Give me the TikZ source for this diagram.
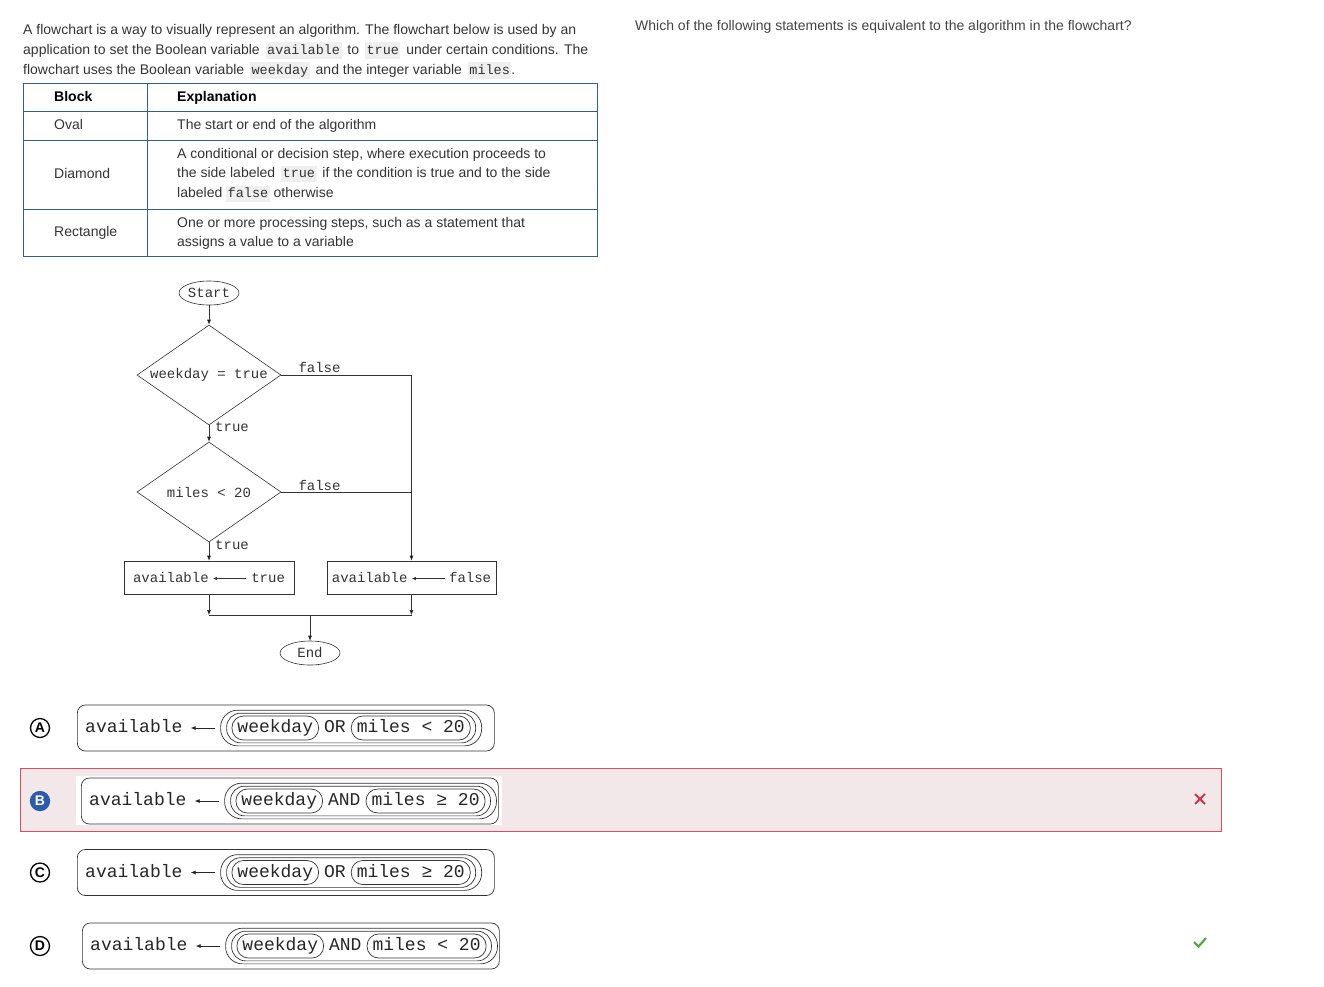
\documentclass[tikz,border=0pt]{standalone}
\usepackage{fontspec}
\setmainfont{Liberation Sans}
\setmonofont{Liberation Mono}
\usetikzlibrary{arrows.meta}
\usetikzlibrary{shapes.geometric}
\usetikzlibrary{positioning}
\usetikzlibrary{fit}

\definecolor{inktext}{HTML}{333333}
\definecolor{asktext}{HTML}{444444}
\definecolor{tableline}{HTML}{2F5F8A}
\definecolor{codebg}{HTML}{EFEFEF}
\definecolor{flowgray}{HTML}{333333}
\definecolor{wrongfill}{HTML}{F3E8E9}
\definecolor{wrongline}{HTML}{DB4C5E}
\definecolor{markblue}{HTML}{2C5BAE}
\definecolor{crossred}{HTML}{C9354C}
\definecolor{tickgreen}{HTML}{5BA843}

\newcommand{\bodyfont}{\fontsize{14}{16}\selectfont}
\newcommand{\flowfont}{\fontsize{14}{14}\ttfamily}
\newcommand{\choicefont}{\fontsize{18}{18}\ttfamily}
\newcommand{\codebox}[1]{{\setlength{\fboxsep}{1.5pt}\colorbox{codebg}{\rule[-3pt]{0pt}{13.5pt}\fontsize{13.5}{14}\ttfamily #1}}}
\newcommand{\code}[1]{\hspace{2pt}\codebox{#1}\hspace{2pt}}
\newcommand{\getsarrow}{\tikz[baseline=-4pt]\draw[flowgray,line width=0.6pt,-{Latex[length=4pt,width=3.5pt]}] (0pt,0pt) -- (-33pt,0pt);}

\begin{document}
\begin{tikzpicture}[x=1pt,y=-1pt,
    prose/.style={anchor=base west,inner sep=0pt,font=\bodyfont,text=inktext},
    flowline/.style={draw=flowgray,line width=0.6pt},
    flowarrow/.style={flowline,-{Latex[length=5pt,width=4pt]}},
    terminal/.style={ellipse,flowline,minimum width=60pt,minimum height=24pt,inner sep=0pt,font=\flowfont,text=flowgray},
    decision/.style={diamond,flowline,aspect=1.44,minimum width=144pt,minimum height=100pt,inner sep=0pt,font=\flowfont,text=flowgray},
    process/.style={rectangle,flowline,minimum height=33pt,inner sep=0pt,font=\flowfont,text=flowgray},
    branch/.style={anchor=west,inner sep=0pt,font=\flowfont,text=flowgray},
    choicetext/.style={inner sep=0pt,text height=11pt,text depth=2pt,font=\choicefont,text=black!85},
    pill/.style={rectangle,draw=black!80,line width=0.7pt,rounded corners=11.5pt,minimum height=24pt,inner xsep=5.5pt,inner ysep=0pt,text height=11pt,text depth=2pt,font=\choicefont,text=black!85},
    ring/.style={rectangle,draw=black!80,line width=0.7pt,inner sep=0pt},
    choicebox/.style={rectangle,draw=black!80,line width=0.7pt,rounded corners=8pt,minimum width=417pt,minimum height=46pt,anchor=west},
    assign/.style={draw=black!85,line width=0.7pt,-{Latex[length=5pt,width=4pt]}},
    letter/.style={circle,draw=black,line width=1.3pt,minimum size=19pt,inner sep=0pt,font=\fontsize{14}{14}\selectfont\bfseries},
    picked/.style={circle,fill=markblue,draw=markblue,line width=1.3pt,minimum size=19pt,inner sep=0pt,text=white,font=\fontsize{14}{14}\selectfont\bfseries}
]

    \useasboundingbox (0,0) rectangle (1324,986);

    % introduction and question
    \node[prose] (intro1) at (23,34) {A flowchart is a way to visually represent an algorithm. The flowchart below is used by an};
    \node[prose] (intro2) at (23,54) {application to set the Boolean variable \code{available} to \code{true} under certain conditions. The};
    \node[prose] (intro3) at (23,74) {flowchart uses the Boolean variable \code{weekday} and the integer variable \hspace{2pt}\codebox{miles}.};
    \node[prose,text=asktext] (question) at (635,30) {Which of the following statements is equivalent to the algorithm in the flowchart?};

    % table of blocks
    \draw[tableline,line width=0.8pt] (23,83) rectangle (597,256);
    \foreach \yy in {111,140,209}
        \draw[tableline,line width=0.8pt] (23,\yy) -- (597,\yy);
    \draw[tableline,line width=0.8pt] (147,83) -- (147,256);

    \node[prose,text=black,font=\bodyfont\bfseries] (hblock) at (54,101.5) {Block};
    \node[prose,text=black,font=\bodyfont\bfseries] (hexpl) at (177,101.5) {Explanation};
    \node[prose] (oval) at (54,129.5) {Oval};
    \node[prose] (ovalx) at (177,129.5) {The start or end of the algorithm};
    \node[prose] (diam) at (54,178.5) {Diamond};
    \node[prose] (diamx1) at (177,158.5) {A conditional or decision step, where execution proceeds to};
    \node[prose] (diamx2) at (177,177.5) {the side labeled \code{true} if the condition is true and to the side};
    \node[prose] (diamx3) at (177,197.5) {labeled \codebox{false} otherwise};
    \node[prose] (rect) at (54,236.5) {Rectangle};
    \node[prose] (rectx1) at (177,227.5) {One or more processing steps, such as a statement that};
    \node[prose] (rectx2) at (177,246.5) {assigns a value to a variable};

    % flowchart
    \node[terminal] (start) at (209,293) {Start};
    \node[decision] (wkd) at (209,375) {weekday = true};
    \node[decision] (mil) at (209,492) {miles < 20};
    \node[process,minimum width=170pt] (settrue) at (209,577.5) {available\hspace{4pt}\getsarrow\hspace{5pt}true};
    \node[process,minimum width=169pt] (setfalse) at (411.5,577.5) {available\hspace{4pt}\getsarrow\hspace{4pt}false};
    \node[terminal] (stop) at (310,653) {End};

    \node[branch] (wkdfalse) at ([xshift=17pt,yshift=8pt]wkd.east) {false};
    \node[branch] (wkdtrue) at ([xshift=6pt,yshift=-2pt]wkd.south) {true};
    \node[branch] (milfalse) at ([xshift=17pt,yshift=7pt]mil.east) {false};
    \node[branch] (miltrue) at ([xshift=6pt,yshift=-3pt]mil.south) {true};

    \coordinate (fturn) at (411.5,375);
    \coordinate (fjoin) at (411.5,492);
    \coordinate (mergel) at (209,615);
    \coordinate (merger) at (411.5,615);
    \coordinate (mergem) at (310,615);

    \draw[flowarrow] (start) -- (wkd);
    \draw[flowarrow] (wkd) -- (mil);
    \draw[flowarrow] (mil) -- (settrue);
    \draw[flowline] (wkd.east) -- (fturn);
    \draw[flowarrow] (fturn) -- (setfalse);
    \draw[flowline] (mil.east) -- (fjoin);
    \draw[flowarrow] (settrue) -- (mergel);
    \draw[flowarrow] (setfalse) -- (merger);
    \draw[flowline] (mergel) -- (merger);
    \draw[flowarrow] (mergem) -- (stop);

    % highlighted wrong answer
    \draw[wrongline,fill=wrongfill,line width=1pt] (20,768) rectangle (1221,831);
    \fill[white] (76,776) rectangle (502,825);
    \draw[crossred,line width=2pt] (1195,794) -- (1205,804) (1195,804) -- (1205,794);
    \draw[tickgreen,line width=2.2pt] (1194,942) -- (1198.5,946.5) -- (1206,938);

    % answer choices
    \foreach \lt/\yy/\xa/\op/\rel/\mk in {A/728/85/OR/</letter, B/801/89/AND/≥/picked, C/872.5/85/OR/≥/letter, D/946/90/AND/</letter} {
        \node[choicetext,anchor=west] (av\lt) at (\xa,\yy) {available};
        \node[pill,right=49pt of av\lt] (wd\lt) {weekday};
        \node[choicetext,right=5pt of wd\lt] (op\lt) {\op};
        \node[pill,right=5pt of op\lt] (mi\lt) {miles \rel{} 20};
        \node[ring,rounded corners=14pt,fit=(wd\lt)(mi\lt),inner xsep=5pt,inner ysep=2.5pt] (inring\lt) {};
        \node[ring,rounded corners=17pt,fit=(wd\lt)(mi\lt),inner xsep=11pt,inner ysep=5.5pt] (outring\lt) {};
        \draw[assign] ([xshift=-5pt]outring\lt.west) -- ([xshift=8pt]av\lt.east);
        \node[choicebox] (box\lt) at ([xshift=-8pt]av\lt.west) {};
        \node[\mk] (mark\lt) at (40,\yy) {\lt};
    }

\end{tikzpicture}
\end{document}
